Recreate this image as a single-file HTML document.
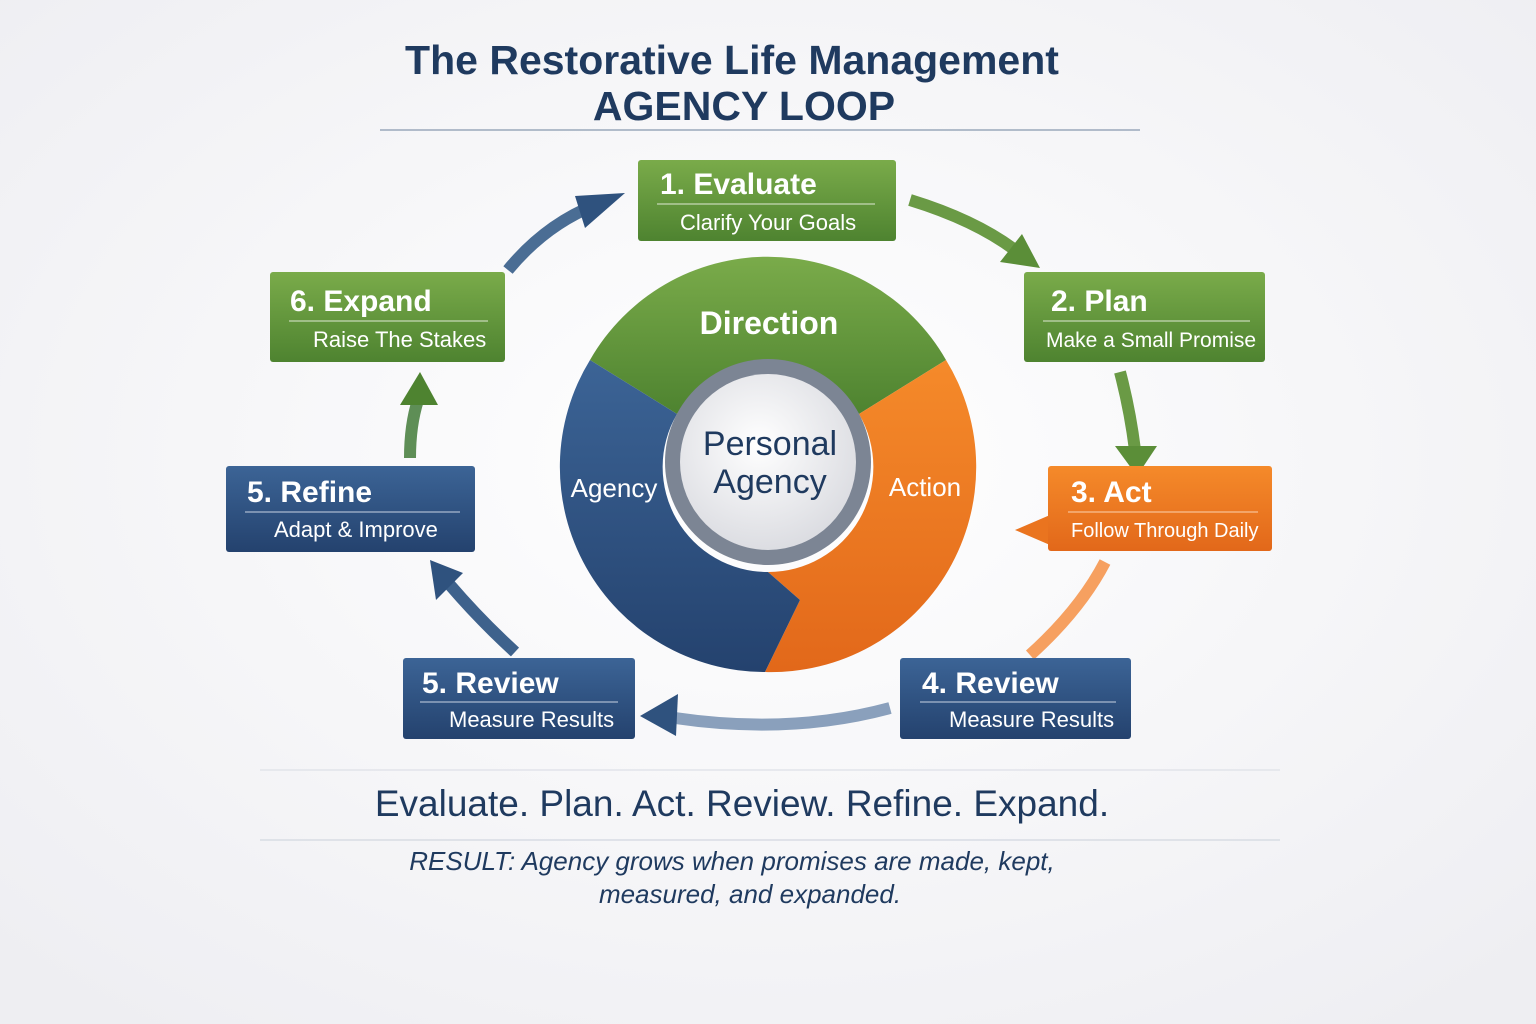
<!DOCTYPE html>
<html><head><meta charset="utf-8"><style>
html,body{margin:0;padding:0;background:#f6f6f8;}
svg{display:block;font-family:"Liberation Sans",sans-serif;}
</style></head><body>
<svg width="1536" height="1024" viewBox="0 0 1536 1024" xmlns="http://www.w3.org/2000/svg">
<defs>
<radialGradient id="bg" cx="50%" cy="45%" r="70%"><stop offset="0" stop-color="#ffffff"/><stop offset="1" stop-color="#eeeef2"/></radialGradient>
<linearGradient id="gG" x1="0" y1="0" x2="0" y2="1"><stop offset="0" stop-color="#7aab4a"/><stop offset="1" stop-color="#4e8330"/></linearGradient>
<linearGradient id="gB" x1="0" y1="0" x2="0" y2="1"><stop offset="0" stop-color="#3c6496"/><stop offset="1" stop-color="#24426e"/></linearGradient>
<linearGradient id="gO" x1="0" y1="0" x2="0" y2="1"><stop offset="0" stop-color="#f58a2a"/><stop offset="1" stop-color="#e2681a"/></linearGradient>
<radialGradient id="wc" cx="45%" cy="40%" r="60%"><stop offset="0" stop-color="#ffffff"/><stop offset="1" stop-color="#dcdde2"/></radialGradient>
</defs>
<rect width="1536" height="1024" fill="url(#bg)"/>
<text x="732" y="74" text-anchor="middle" font-size="41" font-weight="bold" fill="#1f3a5f">The Restorative Life Management</text>
<text x="744" y="120" text-anchor="middle" font-size="41" font-weight="bold" fill="#1f3a5f">AGENCY LOOP</text>
<line x1="380" y1="130" x2="1140" y2="130" stroke="#9aa8bb" stroke-width="1.5"/>

<g>
<path d="M590,360 A205,205 0 0 1 946,360 L859,414 A105,105 0 0 0 677,414 Z" fill="url(#gG)"/>
<path d="M946,360 A205,205 0 0 1 765,672 L800,600 L768,572 A105,105 0 0 0 859,414 Z" fill="url(#gO)"/>
<path d="M590,360 A205,205 0 0 0 765,672 L800,600 L768,572 A105,105 0 0 1 677,414 Z" fill="url(#gB)"/>
<circle cx="768" cy="462" r="103" fill="#7c8594"/>
<circle cx="768" cy="462" r="88" fill="url(#wc)"/>
<text x="769" y="334" text-anchor="middle" font-size="32" font-weight="bold" fill="#fff">Direction</text>
<text x="614" y="497" text-anchor="middle" font-size="26" fill="#fff">Agency</text>
<text x="925" y="496" text-anchor="middle" font-size="26" fill="#fff">Action</text>
<text x="770" y="455" text-anchor="middle" font-size="34" fill="#1f3a5f">Personal</text>
<text x="770" y="493" text-anchor="middle" font-size="34" fill="#1f3a5f">Agency</text>
</g>

<g fill="none" stroke-width="12" stroke-linecap="butt">
<path d="M508,270 Q545,225 595,205" stroke="#4a6d94"/>
<path d="M910,200 Q975,220 1015,250" stroke="#6a9a45"/>
<path d="M1120,372 Q1130,410 1135,450" stroke="#6a9a45"/>
<path d="M1105,562 Q1080,610 1030,655" stroke="#f6a060"/>
<path d="M890,708 Q790,735 675,718" stroke="#8aa0bc"/>
<path d="M515,652 Q480,620 450,585" stroke="#3e628c"/>
<path d="M410,458 Q410,425 418,400" stroke="#5e8e56"/>
</g>
<polygon points="625,193 585,228 575,196" fill="#2f527e"/>
<polygon points="1040,268 1000,262 1022,234" fill="#5b8e38"/>
<polygon points="1137,476 1115,446 1157,446" fill="#5b8e38"/>
<polygon points="640,716 678,694 676,736" fill="#2f527e"/>
<polygon points="430,560 463,573 436,600" fill="#2f527e"/>
<polygon points="420,372 400,405 438,405" fill="#4e8330"/>

<g font-size="30" fill="#fff">
<rect x="638" y="160" width="258" height="81" rx="3" fill="url(#gG)"/>
<text x="660" y="194" font-weight="bold">1. Evaluate</text>
<line x1="657" y1="204" x2="875" y2="204" stroke="#dfe9d4" stroke-width="1"/>
<text x="680" y="230" font-size="22">Clarify Your Goals</text>

<rect x="1024" y="272" width="241" height="90" rx="3" fill="url(#gG)"/>
<text x="1051" y="311" font-weight="bold">2. Plan</text>
<line x1="1043" y1="321" x2="1250" y2="321" stroke="#dfe9d4" stroke-width="1"/>
<text x="1046" y="347" font-size="21">Make a Small Promise</text>

<rect x="270" y="272" width="235" height="90" rx="3" fill="url(#gG)"/>
<text x="290" y="311" font-weight="bold">6. Expand</text>
<line x1="289" y1="321" x2="488" y2="321" stroke="#dfe9d4" stroke-width="1"/>
<text x="313" y="347" font-size="22">Raise The Stakes</text>

<rect x="226" y="466" width="249" height="86" rx="3" fill="url(#gB)"/>
<text x="247" y="502" font-weight="bold">5. Refine</text>
<line x1="245" y1="512" x2="460" y2="512" stroke="#c8d3e2" stroke-width="1"/>
<text x="274" y="537" font-size="22">Adapt &amp; Improve</text>

<polygon points="1015,530 1050,515 1050,545" fill="#ea741f"/>
<rect x="1048" y="466" width="224" height="85" rx="3" fill="url(#gO)"/>
<text x="1071" y="502" font-weight="bold">3. Act</text>
<line x1="1068" y1="512" x2="1258" y2="512" stroke="#fbd2b0" stroke-width="1"/>
<text x="1071" y="537" font-size="20">Follow Through Daily</text>

<rect x="900" y="658" width="231" height="81" rx="3" fill="url(#gB)"/>
<text x="922" y="693" font-weight="bold">4. Review</text>
<line x1="920" y1="702" x2="1116" y2="702" stroke="#c8d3e2" stroke-width="1"/>
<text x="949" y="727" font-size="22">Measure Results</text>

<rect x="403" y="658" width="232" height="81" rx="3" fill="url(#gB)"/>
<text x="422" y="693" font-weight="bold">5. Review</text>
<line x1="420" y1="702" x2="618" y2="702" stroke="#c8d3e2" stroke-width="1"/>
<text x="449" y="727" font-size="22">Measure Results</text>
</g>

<line x1="260" y1="770" x2="1280" y2="770" stroke="#e2e4ea" stroke-width="1.5"/>
<text x="742" y="816" text-anchor="middle" font-size="37" fill="#1f3a5f">Evaluate. Plan. Act.  Review.  Refine. Expand.</text>
<line x1="260" y1="840" x2="1280" y2="840" stroke="#d8dce4" stroke-width="1.5"/>
<text x="732" y="870" text-anchor="middle" font-size="26" font-style="italic" fill="#1f3a5f">RESULT: Agency grows when promises are made, kept,</text>
<text x="750" y="903" text-anchor="middle" font-size="26" font-style="italic" fill="#1f3a5f">measured, and expanded.</text>
</svg>
</body></html>
